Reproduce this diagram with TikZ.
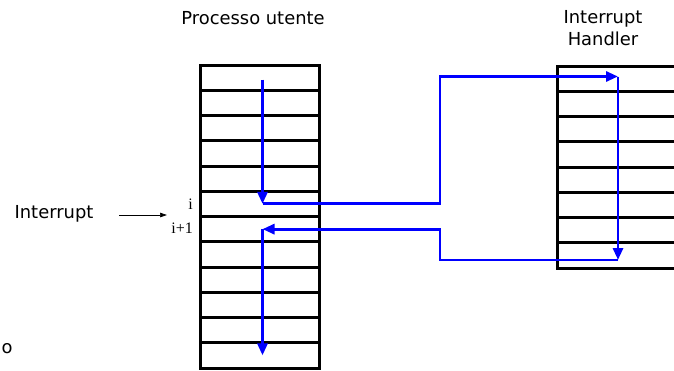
\documentclass[tikz,border=0pt]{standalone}
\usepackage{fontspec}
\setmainfont{DejaVu Sans}
\newfontfamily\idxfont{Liberation Serif}
\usetikzlibrary{arrows.meta}

\begin{document}
\begin{tikzpicture}[x=1pt,y=-1pt,line width=.35pt,font=\fontsize{17.9}{21.2}\selectfont,
  cell/.style={draw,line width=3pt,minimum width=119pt,minimum height=25.25pt,inner sep=0pt,outer sep=0pt},
  flow/.style={draw=blue,line width=2.9pt,-{Triangle[length=12pt,width=10pt]}},
  idx/.style={anchor=east,inner sep=0pt,font=\idxfont\fontsize{16}{19}\selectfont}]
\useasboundingbox (0,0) rectangle (674,370);
% Processo utente
\node[cell] (L1) at (259.5,77.625) {};
\node[cell] (L2) at (259.5,102.875) {};
\node[cell] (L3) at (259.5,128.125) {};
\node[cell] (L4) at (259.5,153.375) {};
\node[cell] (L5) at (259.5,178.625) {};
\node[cell] (L6) at (259.5,203.875) {};
\node[cell] (L7) at (259.5,229.125) {};
\node[cell] (L8) at (259.5,254.375) {};
\node[cell] (L9) at (259.5,279.625) {};
\node[cell] (L10) at (259.5,304.875) {};
\node[cell] (L11) at (259.5,330.125) {};
\node[cell] (L12) at (259.5,355.375) {};
% Interrupt Handler
\node[cell] (R1) at (616.5,78.625) {};
\node[cell] (R2) at (616.5,103.875) {};
\node[cell] (R3) at (616.5,129.125) {};
\node[cell] (R4) at (616.5,154.375) {};
\node[cell] (R5) at (616.5,179.625) {};
\node[cell] (R6) at (616.5,204.875) {};
\node[cell] (R7) at (616.5,230.125) {};
\node[cell] (R8) at (616.5,255.375) {};
% titles and labels
\node (proc) at (253,18) {Processo utente};
\node[align=center] (hand) at (603,28) {Interrupt\\Handler};
\node (intr) at (54,214) {Interrupt};
\node (cut) at (7,349) {o};
\node[idx] (ii) at (193,204) {i};
\node[idx] (inext) at (193,228.5) {i+1};
\coordinate (intin) at (119,215);
\coordinate (intto) at (167,215);
\draw[-{Triangle[length=7pt,width=4.5pt]},line width=.7pt] (intin) -- (intto);
% control flow
\coordinate (R1in) at (618,76.5);
\coordinate (R8out) at (618,260);
\coordinate (go) at (440,76.5);
\coordinate (back) at (440,229.125);
\draw[flow] ([xshift=3pt,yshift=-2pt]L1.center) -- ([xshift=3pt]L6.center);
\draw[flow] ([xshift=3pt]L6.center) -| (go) -- (R1in);
\draw[flow] (R1in) -- (R8out);
\draw[flow] (R8out) -| (back) -- ([xshift=3pt]L7.center);
\draw[flow] ([xshift=3pt]L7.center) -- ([xshift=3pt]L12.center);
\end{tikzpicture}
\end{document}
